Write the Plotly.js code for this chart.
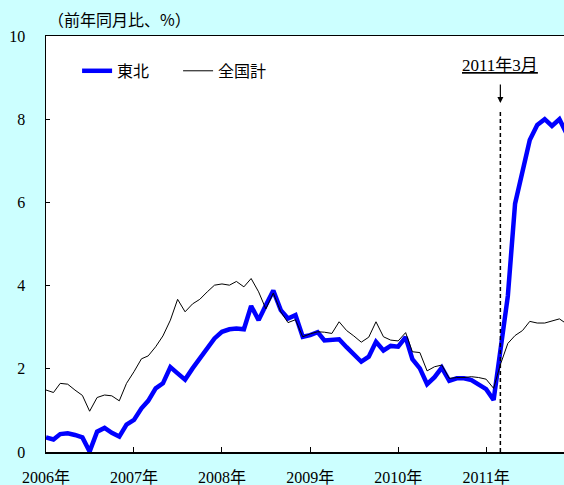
<!DOCTYPE html>
<html>
<head>
<meta charset="utf-8">
<script src="https://cdn.plot.ly/plotly-3.0.1.min.js"></script>
<style>html,body{margin:0;padding:0;background:#ccffff;}#chart{width:564px;height:485px;}</style>
</head>
<body>
<div id="chart"></div>
<script>
// Months: Jan 2006 .. Dec 2011
const months = [
 '2006-01-01','2006-02-01','2006-03-01','2006-04-01','2006-05-01','2006-06-01','2006-07-01','2006-08-01','2006-09-01','2006-10-01','2006-11-01','2006-12-01',
 '2007-01-01','2007-02-01','2007-03-01','2007-04-01','2007-05-01','2007-06-01','2007-07-01','2007-08-01','2007-09-01','2007-10-01','2007-11-01','2007-12-01',
 '2008-01-01','2008-02-01','2008-03-01','2008-04-01','2008-05-01','2008-06-01','2008-07-01','2008-08-01','2008-09-01','2008-10-01','2008-11-01','2008-12-01',
 '2009-01-01','2009-02-01','2009-03-01','2009-04-01','2009-05-01','2009-06-01','2009-07-01','2009-08-01','2009-09-01','2009-10-01','2009-11-01','2009-12-01',
 '2010-01-01','2010-02-01','2010-03-01','2010-04-01','2010-05-01','2010-06-01','2010-07-01','2010-08-01','2010-09-01','2010-10-01','2010-11-01','2010-12-01',
 '2011-01-01','2011-02-01','2011-03-01','2011-04-01','2011-05-01','2011-06-01','2011-07-01','2011-08-01','2011-09-01','2011-10-01','2011-11-01','2011-12-01'
];
// 東北 (前年同月比, %)
const tohoku = [
 0.35,0.30,0.43,0.45,0.41,0.35,0.01,0.49,0.58,0.46,0.37,0.66,
 0.77,1.05,1.23,1.53,1.65,2.04,1.89,1.74,2.01,2.25,2.53,2.73,
 2.89,2.95,2.97,2.95,3.51,3.17,3.53,3.88,3.41,3.21,3.29,2.77,
 2.81,2.88,2.68,2.69,2.71,2.52,2.33,2.17,2.29,2.65,2.44,2.55,
 2.53,2.76,2.23,2.01,1.63,1.80,2.03,1.71,1.77,1.77,1.73,1.61,
 1.51,1.25,2.50,3.75,5.97,6.74,7.50,7.86,8.00,7.84,8.00,7.65
];
// 全国計 (前年同月比, %)
const national = [
 1.49,1.43,1.65,1.63,1.49,1.36,0.98,1.31,1.37,1.35,1.23,1.65,
 1.93,2.24,2.31,2.53,2.79,3.17,3.67,3.37,3.56,3.67,3.85,4.01,
 4.04,4.01,4.10,3.97,4.17,3.85,3.44,3.82,3.37,3.11,3.18,2.77,
 2.84,2.89,2.88,2.85,3.13,2.92,2.79,2.64,2.76,3.13,2.77,2.69,
 2.67,2.87,2.41,2.39,1.95,2.05,2.09,1.77,1.79,1.79,1.81,1.79,
 1.75,1.53,2.10,2.61,2.80,2.92,3.14,3.10,3.10,3.15,3.20,3.08
];
const seriesNames = ['東北','全国計'];
const yearTicks = ['2006-01-01','2007-01-01','2008-01-01','2009-01-01','2010-01-01','2011-01-01'];
const yearLabels = ['2006年','2007年','2008年','2009年','2010年','2011年'];
const yTicks = [0,2,4,6,8,10];
const eventDate = '2011-03-01';
const eventLabel = '2011年3月';
const unitLabel = '（前年同月比、%）';

const serif = '"Liberation Serif","Times New Roman","Noto Sans CJK JP",serif';
const cjk = '"Noto Sans CJK JP","Noto Sans",sans-serif';

const traces = [
 {x: months, y: tohoku, name: seriesNames[0], type: 'scatter', mode: 'lines',
  line: {color: '#0000ff', width: 4.5}},
 {x: months, y: national, name: seriesNames[1], type: 'scatter', mode: 'lines',
  line: {color: '#000000', width: 1}}
];

const layout = {
 width: 564, height: 485,
 paper_bgcolor: '#ccffff', plot_bgcolor: '#ffffff',
 margin: {l: 46, r: 0, t: 36, b: 33},
 showlegend: true,
 legend: {orientation: 'h', x: 0.06, y: 0.957, xanchor: 'left', yanchor: 'top',
   entrywidth: 56, itemwidth: 30,
   bgcolor: 'rgba(0,0,0,0)', font: {family: cjk, size: 16, color: '#000'}},
 xaxis: {type: 'date', range: ['2006-01-01', '2011-11-20'],
   tickvals: yearTicks, ticktext: yearLabels,
   ticks: 'inside', ticklen: 5, tickwidth: 1, tickcolor: '#000',
   showline: true, linecolor: '#000', linewidth: 1.5, mirror: true,
   showgrid: false, zeroline: false,
   tickfont: {family: serif, size: 16, color: '#000'}, ticklabelstandoff: 10},
 yaxis: {range: [0, 10], tickvals: yTicks, ticks: 'inside', ticklen: 4, tickwidth: 1, tickcolor: '#000',
   showline: true, linecolor: '#000', linewidth: 1.5,
   showgrid: false, zeroline: false,
   tickfont: {family: serif, size: 16, color: '#000'}, ticklabelstandoff: 16},
 shapes: [
  {type: 'line', xref: 'x', yref: 'y', x0: eventDate, x1: eventDate, y0: 0, y1: 8.22,
   line: {color: '#000', width: 1.5, dash: '4px,3px'}}
 ],
 annotations: [
  {xref: 'paper', yref: 'paper', x: 0.0, y: 1.0, xanchor: 'left', yanchor: 'bottom', yshift: 3,
   text: unitLabel, showarrow: false, font: {family: cjk, size: 16, color: '#000'}},
  {xref: 'x', yref: 'y', x: eventDate, y: 9.28, text: '<u>' + eventLabel + '</u>', showarrow: false,
   font: {family: serif, size: 17, color: '#000'}},
  {xref: 'x', yref: 'y', x: eventDate, y: 8.39, ax: 0, ay: -20, text: '', showarrow: true,
   arrowhead: 2, arrowsize: 1, arrowwidth: 1.2, arrowcolor: '#000'}
 ]
};

Plotly.newPlot('chart', traces, layout, {displayModeBar: false, staticPlot: true});
</script>
</body>
</html>
